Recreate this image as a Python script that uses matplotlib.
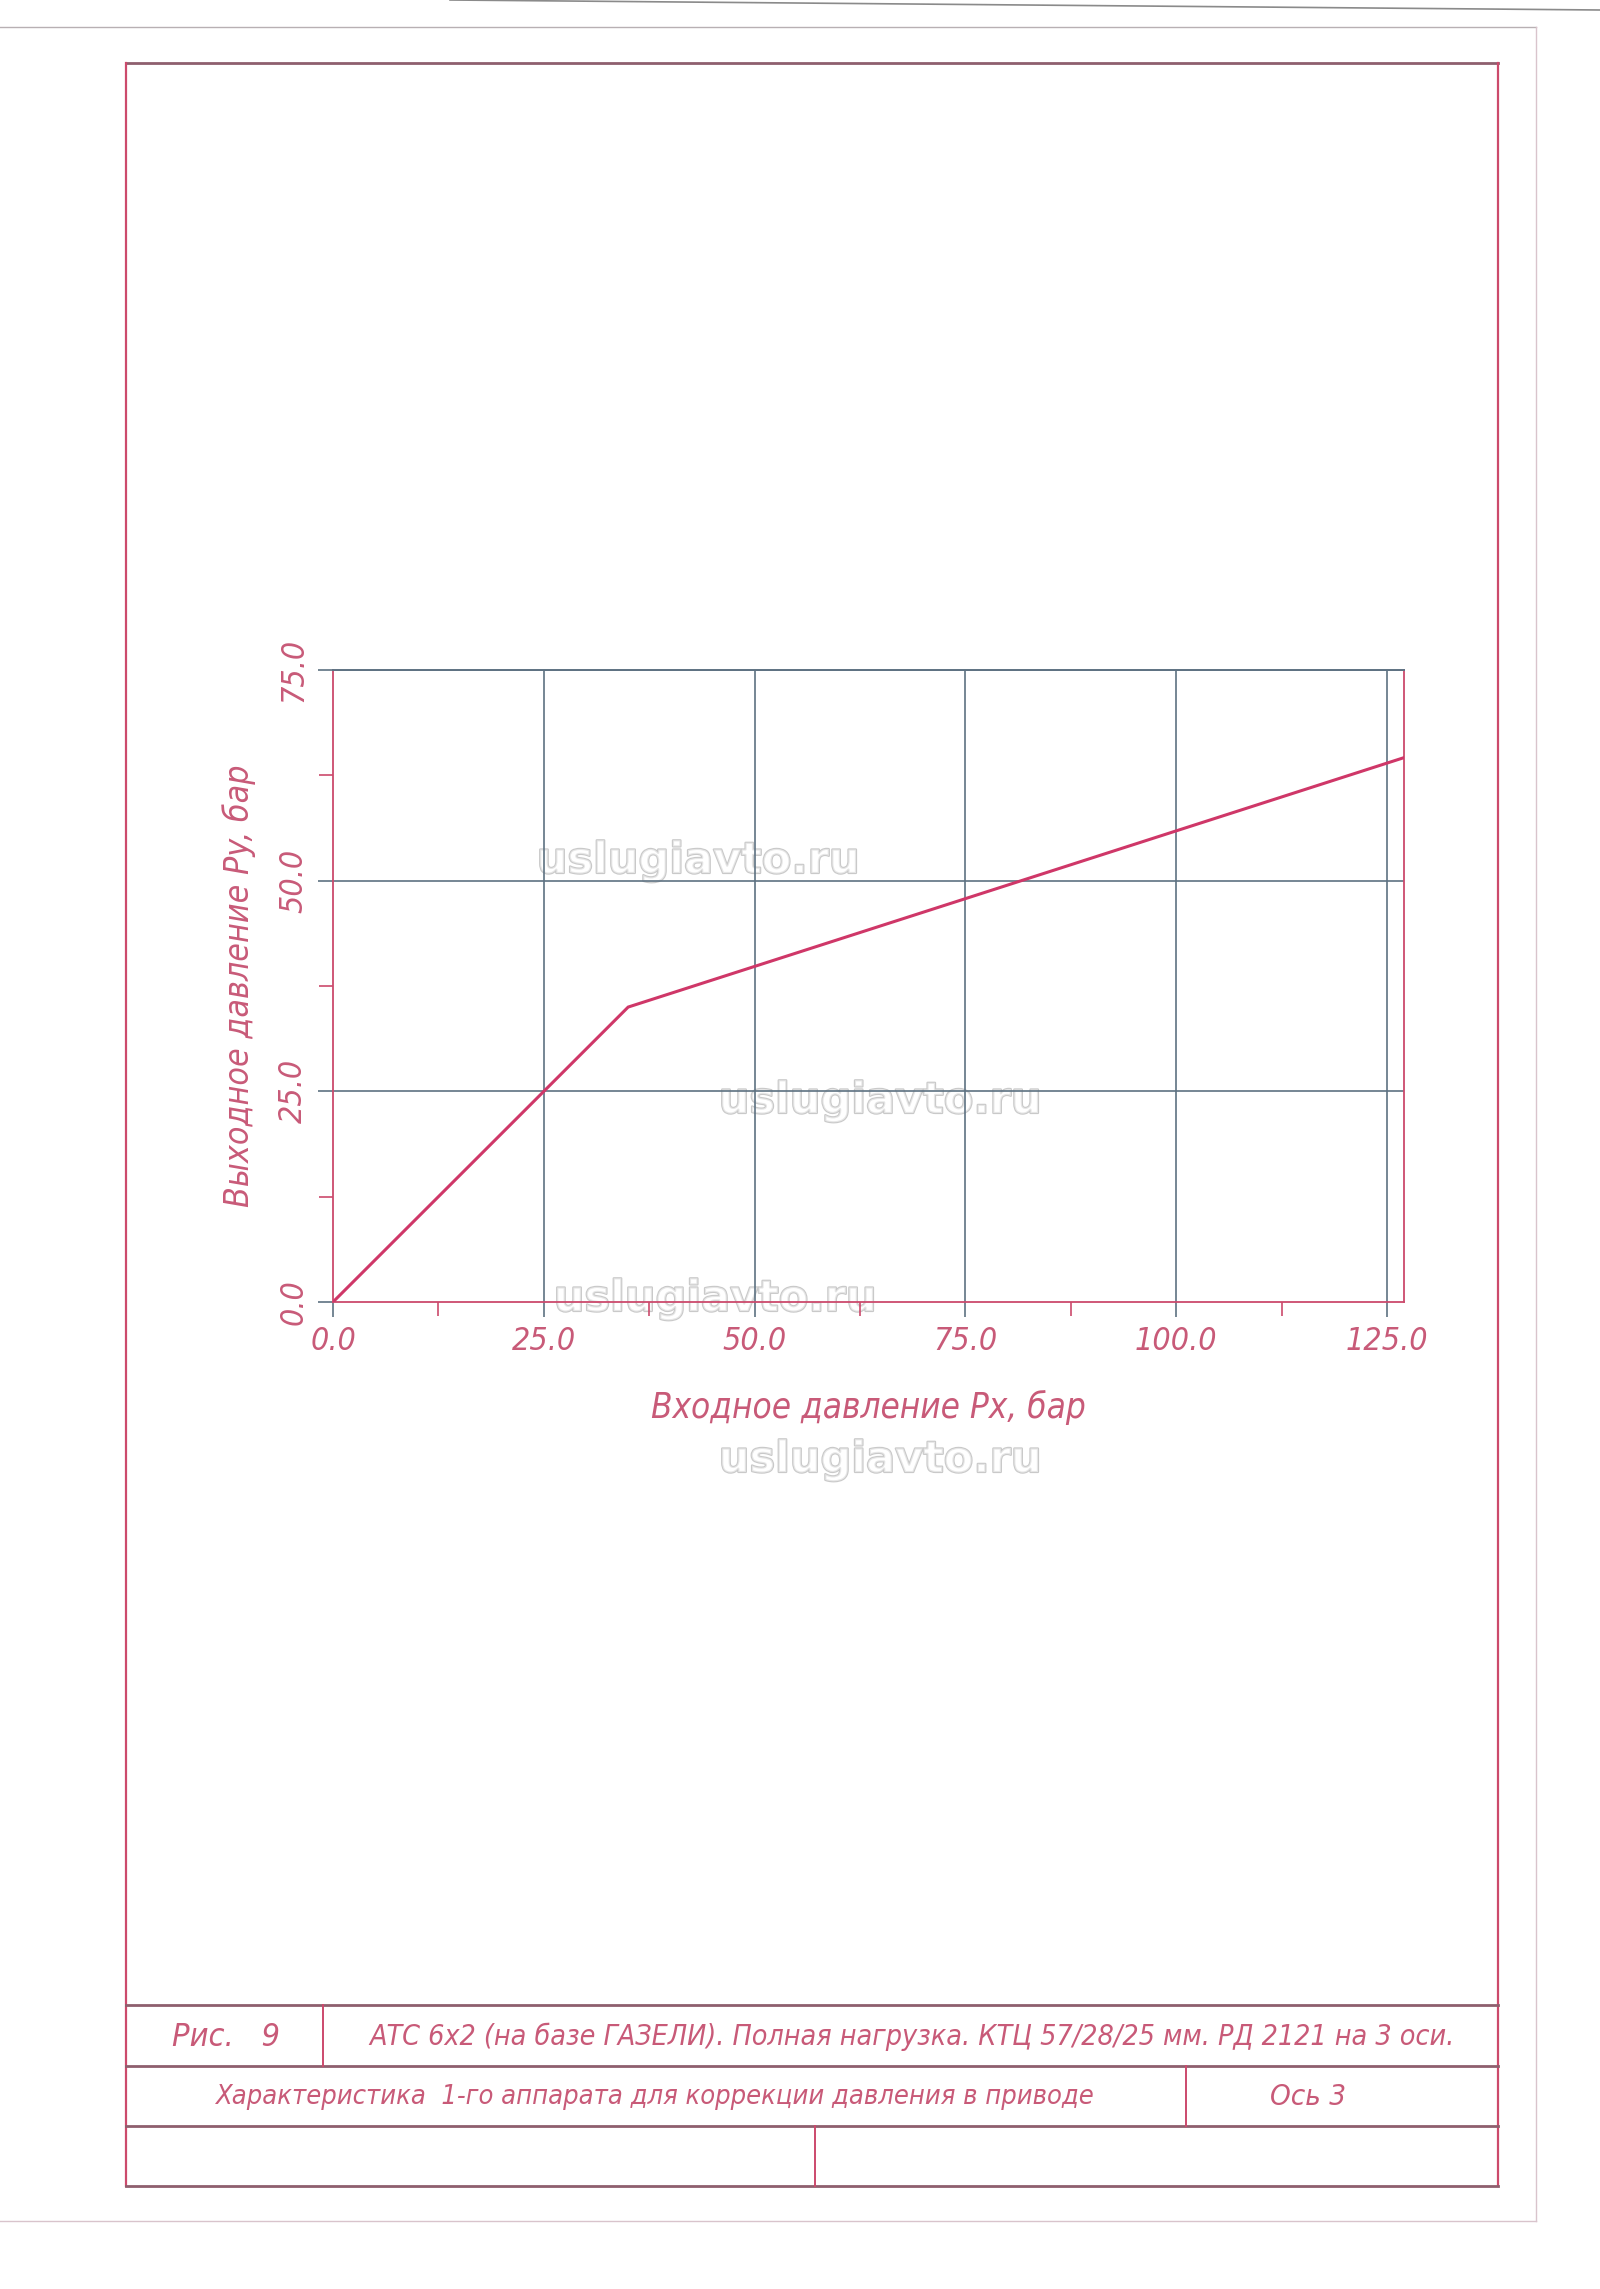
import matplotlib
matplotlib.use("Agg")
import matplotlib.pyplot as plt
import matplotlib.patheffects as pe
import numpy as np

# ── Data ──────────────────────────────────────────────────────────────────
px_in = [0.0, 35.0, 127.0]      # Входное давление Px, бар
py_out = [0.0, 35.0, 64.6]      # Выходное давление Py, бар
x_ticks = [0.0, 25.0, 50.0, 75.0, 100.0, 125.0]
y_ticks = [0.0, 25.0, 50.0, 75.0]
x_minor = [12.5, 37.5, 62.5, 87.5, 112.5]
y_minor = [12.5, 37.5, 62.5]
x_labels = ["0.0", "25.0", "50.0", "75.0", "100.0", "125.0"]
y_labels = ["0.0", "25.0", "50.0", "75.0"]

TITLE_ROW1_LEFT = "Рис.   9"
TITLE_ROW1 = "АТС 6х2 (на базе ГАЗЕЛИ). Полная нагрузка. КТЦ 57/28/25 мм. РД 2121 на 3 оси."
TITLE_ROW2 = "Характеристика  1-го аппарата для коррекции давления в приводе"
TITLE_ROW2_RIGHT = "Ось 3"
WATERMARK = "uslugiavto.ru"

# ── Palette ───────────────────────────────────────────────────────────────
RED = "#cc4a6c"
TXT = "#c85a78"
LINE = "#cf3768"
GRID = "#5e7282"
HLINE = "#8e5f6e"
OUTER = "#d9c4cc"

FONT = dict(family=["DejaVu Sans", "Liberation Sans"], style="italic",
            stretch="condensed")

W, H = 1600, 2289
fig = plt.figure(figsize=(W / 100, H / 100), dpi=100, facecolor="white")

# page layer in pixel coordinates
page = fig.add_axes([0, 0, 1, 1])
page.set_xlim(0, W)
page.set_ylim(H, 0)
page.axis("off")

# scan edge + outer sheet border
page.plot([450, 1600], [0, 10], color="#8a8a8a", lw=1.2)
page.plot([0, 1536], [27, 27], color="#b8b0b3", lw=1.0)
page.plot([1536, 1536], [27, 2221], color=OUTER, lw=1.0)
page.plot([0, 1536], [2221, 2221], color=OUTER, lw=1.0)

# inner drawing frame
page.plot([126, 1498], [63, 63], color=HLINE, lw=2.0)
page.plot([126, 126], [63, 2186], color=RED, lw=1.6)
page.plot([1498, 1498], [63, 2186], color=RED, lw=1.6)
for yy in (2005, 2066, 2126, 2186):
    page.plot([126, 1498], [yy, yy], color=HLINE, lw=2.0)
page.plot([323, 323], [2005, 2066], color=RED, lw=1.4)
page.plot([1186, 1186], [2066, 2126], color=RED, lw=1.4)
page.plot([815, 815], [2126, 2186], color=RED, lw=1.4)


def fit(t, size, vertical=False):
    r = fig.canvas.get_renderer()
    for _ in range(3):
        bb = t.get_window_extent(r)
        cur = bb.height if vertical else bb.width
        t.set_fontsize(t.get_fontsize() * size / cur)


t = page.text(172, 2037, TITLE_ROW1_LEFT, ha="left", va="center", color=TXT, fontsize=22, **FONT)
fit(t, 108)
t = page.text(369, 2037, TITLE_ROW1, ha="left", va="center", color=TXT, fontsize=22, **FONT)
fit(t, 1084)
t = page.text(215, 2097, TITLE_ROW2, ha="left", va="center", color=TXT, fontsize=22, **FONT)
fit(t, 880)
t = page.text(1270, 2097, TITLE_ROW2_RIGHT, ha="left", va="center", color=TXT, fontsize=22, **FONT)
fit(t, 76)

# ── Chart ─────────────────────────────────────────────────────────────────
L, R, T, B = 333, 1404, 670, 1302
ax = fig.add_axes([L / W, 1 - B / H, (R - L) / W, (B - T) / H])
ax.set_facecolor("none")
ax.set_xlim(0, 127)
ax.set_ylim(0, 75)

for xv in x_ticks[1:]:
    ax.axvline(xv, color=GRID, lw=1.2, zorder=1)
for yv in y_ticks[1:]:
    ax.axhline(yv, color=GRID, lw=1.2, zorder=1)

ax.plot(px_in, py_out, color=LINE, lw=2.2, zorder=4, solid_joinstyle="miter")

for side in ("left", "bottom", "right"):
    ax.spines[side].set_color(RED)
    ax.spines[side].set_linewidth(1.3)
ax.spines["top"].set_color(GRID)
ax.spines["top"].set_linewidth(1.4)

ax.set_xticks(x_ticks)
ax.set_xticklabels(x_labels)
ax.set_yticks(y_ticks)
ax.set_yticklabels(y_labels, rotation=90, va="center")
ax.set_xticks(x_minor, minor=True)
ax.set_yticks(y_minor, minor=True)
ax.tick_params(which="major", direction="out", length=11, width=1.2,
               color=GRID, labelcolor=TXT, labelsize=23, pad=6)
ax.tick_params(which="minor", direction="out", length=10, width=1.2, color=RED)
for lab in ax.get_xticklabels() + ax.get_yticklabels():
    lab.set_fontstyle("italic")
    lab.set_fontstretch("condensed")

xl = ax.set_xlabel("Входное давление Px, бар", color=TXT, fontsize=26, labelpad=24, **FONT)
yl = ax.set_ylabel("Выходное давление Py, бар", color=TXT, fontsize=26, labelpad=16, **FONT)
fit(xl, 435)
fit(yl, 442, vertical=True)

# watermarks
for (wx, wy) in [(698, 861), (880, 1101), (715, 1299), (880, 1460)]:
    page.text(wx, wy, WATERMARK, ha="center", va="center", fontsize=31,
              fontweight="bold", family="DejaVu Sans", color=(1, 1, 1, 0.55),
              zorder=10,
              path_effects=[pe.Stroke(linewidth=1.6, foreground="#c9c9c9"),
                            pe.Normal()])
page.set_zorder(0)
ax.set_zorder(1)

fig.savefig("out.png", dpi=100, facecolor="white")
